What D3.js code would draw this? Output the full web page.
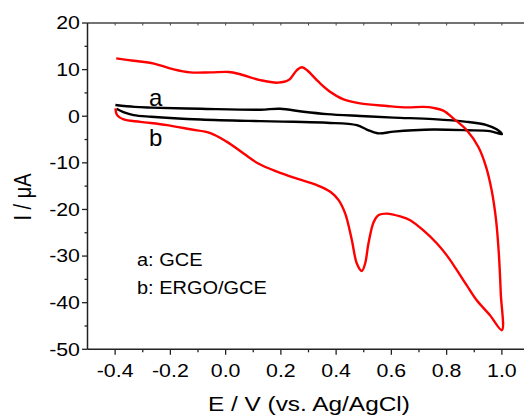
<!DOCTYPE html>
<html>
<head>
<meta charset="utf-8">
<script src="https://cdn.jsdelivr.net/npm/d3@7"></script>
<style>
  body { margin: 0; background: #fff; }
  svg { display: block; font-family: "Liberation Sans", Arial, sans-serif; }
</style>
</head>
<body>
<svg id="chart" width="524" height="419"></svg>
<script>
// ===== Dades =====
// GCE (a): [E (V), I (uA)]
const gceForward = [
  [-0.399, 2.4], [-0.33, 2.0], [-0.27, 1.85], [-0.09, 1.6], [0.125, 1.4],
  [0.197, 1.6], [0.282, 0.95], [0.367, 0.45], [0.487, 0.05], [0.608, -0.3],
  [0.752, -0.62], [0.873, -1.2], [0.945, -1.9], [0.981, -2.8], [1.0, -3.85]
];
const gceReverse = [
  [1.0, -3.85], [0.957, -3.2], [0.873, -3.0], [0.752, -2.85], [0.68, -3.0],
  [0.608, -3.3], [0.55, -3.65], [0.511, -2.85], [0.475, -1.9], [0.367, -1.4],
  [0.246, -1.2], [0.125, -1.05], [-0.09, -0.7], [-0.27, -0.1], [-0.333, 0.25],
  [-0.37, 0.9], [-0.395, 1.6]
];

// ERGO/GCE (b)
const ergoForward = [
  [-0.396, 12.4], [-0.333, 11.9], [-0.26, 11.3], [-0.188, 10.05], [-0.128, 9.4],
  [-0.055, 9.4], [0.011, 9.5], [0.053, 9.0], [0.125, 7.75], [0.19, 7.2],
  [0.228, 7.75], [0.258, 9.9], [0.276, 10.5], [0.294, 9.9], [0.336, 7.4],
  [0.378, 5.25], [0.427, 3.6], [0.487, 2.75], [0.584, 2.2], [0.656, 1.9],
  [0.716, 2.0], [0.752, 1.8], [0.788, 1.2], [0.825, -0.5], [0.873, -3.0],
  [0.915, -6.6], [0.943, -10.9], [0.963, -15.9], [0.979, -22.3], [0.989, -29.5],
  [0.996, -38], [1.0, -45.9]
];
const ergoReverse = [
  [1.0, -45.9], [0.957, -42.7], [0.909, -39.5], [0.873, -36.3], [0.837, -33],
  [0.8, -29.8], [0.765, -27.3], [0.716, -24.5], [0.668, -22.3], [0.632, -21.5],
  [0.584, -20.9], [0.554, -21.2], [0.536, -22.7], [0.517, -27.3], [0.505, -31.6],
  [0.493, -33.2], [0.475, -31.6], [0.457, -26.6], [0.433, -20.9], [0.409, -18.0],
  [0.379, -16.2], [0.331, -14.8], [0.258, -13.4], [0.186, -11.9], [0.12, -10.2],
  [0.065, -8.0], [0.005, -5.5], [-0.055, -3.6], [-0.128, -2.8], [-0.212, -1.9],
  [-0.308, -1.2], [-0.369, -0.7], [-0.393, 0.24], [-0.399, 1.67]
];

const xTicksMajor = [-0.4, -0.2, 0.0, 0.2, 0.4, 0.6, 0.8, 1.0];
const xTicksMinor = [-0.3, -0.1, 0.1, 0.3, 0.5, 0.7, 0.9];
const yTicksMajor = [-50, -40, -30, -20, -10, 0, 10, 20];
const yTicksMinor = [-45, -35, -25, -15, -5, 5, 15];

const legendLines = ["a: GCE", "b: ERGO/GCE"];

// ===== Escales =====
const svg = d3.select("#chart");
const x = d3.scaleLinear().domain([-0.5, 1.1]).range([87.5, 529.5]);
const y = d3.scaleLinear().domain([-50, 20]).range([349.3, 23]);

const stretch = 1.22; // el text de l'original està eixamplat horitzontalment

// ===== Corbes =====
const line = d3.line()
  .x(d => x(d[0]))
  .y(d => y(d[1]))
  .curve(d3.curveCatmullRom.alpha(0.5));

function drawCurve(points, color) {
  svg.append("path")
    .attr("d", line(points))
    .attr("fill", "none")
    .attr("stroke", color)
    .attr("stroke-width", 2.4)
    .attr("stroke-linejoin", "round");
}

drawCurve(gceForward.concat(gceReverse.slice(1)), "#000");
drawCurve(ergoForward.concat(ergoReverse.slice(1)), "#ff0000");

// ===== Eixos =====
const axisColor = "#222";

// eix inferior
const gBottom = svg.append("g").attr("transform", `translate(0,${y(-50)})`);
gBottom.append("line")
  .attr("x1", x(-0.5)).attr("x2", 524)
  .attr("stroke", axisColor).attr("stroke-width", 1.5);
gBottom.selectAll(".maj").data(xTicksMajor).enter().append("line")
  .attr("x1", d => x(d)).attr("x2", d => x(d))
  .attr("y1", 0).attr("y2", 5.5)
  .attr("stroke", axisColor).attr("stroke-width", 1.3);
gBottom.selectAll(".min").data(xTicksMinor).enter().append("line")
  .attr("x1", d => x(d)).attr("x2", d => x(d))
  .attr("y1", 0).attr("y2", 3)
  .attr("stroke", axisColor).attr("stroke-width", 1.3);
gBottom.selectAll("text").data(xTicksMajor).enter().append("text")
  .attr("transform", d => `translate(${x(d)},27.5) scale(${stretch},1)`)
  .attr("text-anchor", "middle")
  .style("font-size", "17.5px")
  .text(d => d.toFixed(1));

// eix superior
const gTop = svg.append("g").attr("transform", `translate(0,${y(20)})`);
gTop.append("line")
  .attr("x1", x(-0.5)).attr("x2", 524)
  .attr("stroke", "#444").attr("stroke-width", 1.3);
gTop.selectAll("line.t").data(xTicksMajor.concat(xTicksMinor)).enter().append("line")
  .attr("x1", d => x(d)).attr("x2", d => x(d))
  .attr("y1", 0).attr("y2", 2.5)
  .attr("stroke", "#444").attr("stroke-width", 1);

// eix esquerre
const gLeft = svg.append("g").attr("transform", `translate(${x(-0.5)},0)`);
gLeft.append("line")
  .attr("y1", y(-50)).attr("y2", y(20))
  .attr("stroke", axisColor).attr("stroke-width", 1.5);
gLeft.selectAll(".maj").data(yTicksMajor).enter().append("line")
  .attr("x1", 0).attr("x2", -5.5)
  .attr("y1", d => y(d)).attr("y2", d => y(d))
  .attr("stroke", axisColor).attr("stroke-width", 1.3);
gLeft.selectAll(".min").data(yTicksMinor).enter().append("line")
  .attr("x1", 0).attr("x2", -3)
  .attr("y1", d => y(d)).attr("y2", d => y(d))
  .attr("stroke", axisColor).attr("stroke-width", 1.3);
gLeft.selectAll("text").data(yTicksMajor).enter().append("text")
  .attr("transform", d => `translate(-7.5,${y(d) + 6.3}) scale(${stretch},1)`)
  .attr("text-anchor", "end")
  .style("font-size", "17.5px")
  .text(d => String(d));

// títols dels eixos
svg.append("text")
  .attr("transform", `translate(${x(0.2) + 28},411) scale(${stretch},1)`)
  .attr("text-anchor", "middle")
  .style("font-size", "20px")
  .text("E / V (vs. Ag/AgCl)");

svg.append("text")
  .attr("transform", `translate(31,197) scale(${stretch},1) rotate(-90)`)
  .attr("text-anchor", "middle")
  .style("font-size", "20px")
  .text("I / \u03bcA");

// etiquetes de corba
svg.append("text").attr("x", 149).attr("y", 105.5)
  .style("font-size", "24px").text("a");
svg.append("text").attr("x", 149).attr("y", 146)
  .style("font-size", "24px").text("b");

// llegenda
svg.selectAll("text.leg").data(legendLines).enter().append("text")
  .attr("class", "leg")
  .attr("transform", (d, i) => `translate(137,${266 + i * 27.5}) scale(1.08,1)`)
  .style("font-size", "18.5px")
  .text(d => d);
</script>
</body>
</html>
